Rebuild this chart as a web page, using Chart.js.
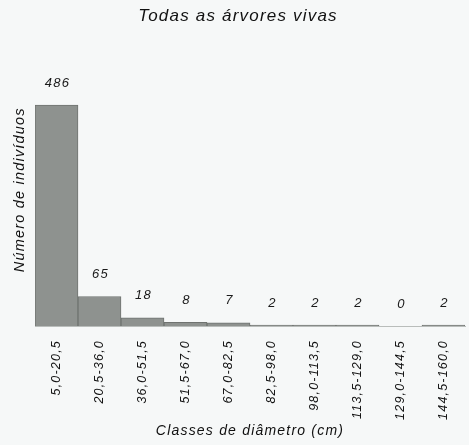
<!DOCTYPE html>
<html>
<head>
<meta charset="utf-8">
<script src="https://cdn.jsdelivr.net/npm/chart.js@4"></script>
<style>
html,body{margin:0;padding:0;background:#f6f8f8;}
#wrap{width:469px;height:445px;position:relative;}
</style>
</head>
<body>
<div id="wrap"><canvas id="c" width="469" height="445"></canvas></div>
<script>
const categories = ["5,0-20,5","20,5-36,0","36,0-51,5","51,5-67,0","67,0-82,5","82,5-98,0","98,0-113,5","113,5-129,0","129,0-144,5","144,5-160,0"];
const counts = [486, 65, 18, 8, 7, 2, 2, 2, 0, 2];
const chartTitle = "Todas as árvores vivas";
const xTitle = "Classes de diâmetro (cm)";
const yTitle = "Número de indivíduos";

const FONT = "'Liberation Sans', Arial, sans-serif";
const SPACING = '1.2px';

const spacing = {
  id: 'spacing',
  beforeInit(chart){ chart.ctx.letterSpacing = SPACING; },
  beforeLayout(chart){ chart.ctx.letterSpacing = SPACING; },
  afterLayout(chart){
    if (chart.titleBlock) { chart.titleBlock.left = 11; chart.titleBlock.right = 465; }
  },
  beforeDraw(chart){ chart.ctx.letterSpacing = SPACING; }
};

const valueLabels = {
  id: 'valueLabels',
  afterDatasetsDraw(chart){
    const ctx = chart.ctx;
    const meta = chart.getDatasetMeta(0);
    ctx.save();
    ctx.font = "italic 13px " + FONT;
    ctx.fillStyle = '#1a1a1a';
    ctx.textAlign = 'center';
    ctx.textBaseline = 'middle';
    meta.data.forEach((bar, i) => {
      ctx.fillText(String(counts[i]), bar.x + 1, bar.y - 22);
    });
    ctx.restore();
  }
};

new Chart(document.getElementById('c'), {
  type: 'bar',
  data: {
    labels: categories,
    datasets: [{
      data: counts,
      backgroundColor: '#8e928f',
      borderColor: '#6f7370',
      borderWidth: 1,
      barPercentage: 1,
      categoryPercentage: 1
    }]
  },
  options: {
    responsive: false,
    animation: false,
    layout: { padding: { top: 0, right: 4, bottom: 0, left: 0 } },
    plugins: {
      legend: { display: false },
      tooltip: { enabled: false },
      title: {
        display: true,
        text: chartTitle,
        color: '#111',
        font: { family: FONT, size: 17, style: 'italic', weight: 'normal' },
        padding: { top: 6, bottom: 27 }
      }
    },
    scales: {
      x: {
        grid: { display: false },
        border: { display: true, color: '#b9bdbb', width: 1 },
        ticks: {
          color: '#111',
          font: { family: FONT, size: 12.5, style: 'italic' },
          minRotation: 90, maxRotation: 90,
          autoSkip: false,
          padding: 6
        },
        title: {
          display: true,
          text: xTitle,
          color: '#111',
          font: { family: FONT, size: 14, style: 'italic' },
          padding: { top: 4, bottom: 5 }
        },
        afterFit(s){ s.height = 119; }
      },
      y: {
        min: 0, max: 600,
        grid: { display: false },
        border: { display: false },
        ticks: { display: false },
        title: {
          display: true,
          text: yTitle,
          color: '#111',
          font: { family: FONT, size: 14.5, style: 'italic' },
          padding: { top: 11, bottom: 4 }
        },
        afterFit(s){ s.width = 35; }
      }
    }
  },
  plugins: [spacing, valueLabels]
});
</script>
</body>
</html>
